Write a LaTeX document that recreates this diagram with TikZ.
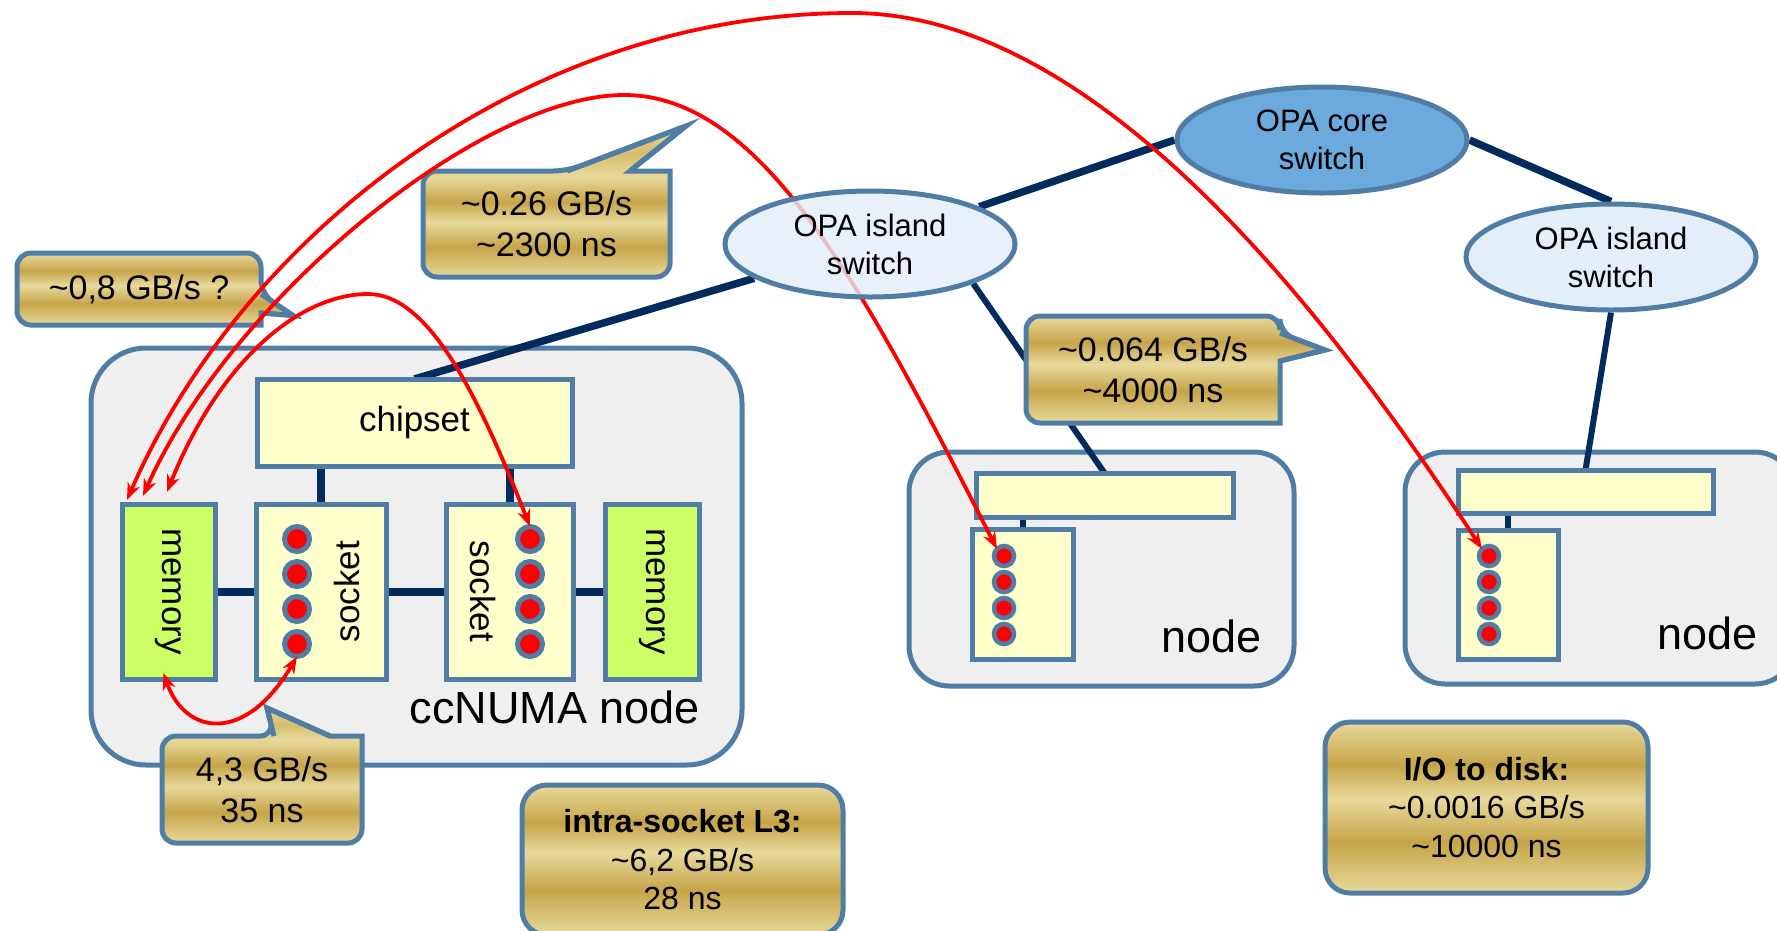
\documentclass[tikz,border=0pt]{standalone}
\usepackage{fontspec}
\setmainfont{Liberation Sans}
\usetikzlibrary{arrows.meta,calc,shapes.geometric}

\definecolor{frame}{HTML}{4F7DA6}
\definecolor{nodegray}{HTML}{EFEFEF}
\definecolor{chipyel}{HTML}{FFFFCC}
\definecolor{memgreen}{HTML}{CCFF66}
\definecolor{navy}{HTML}{002B5C}
\definecolor{corebl}{HTML}{6CAADD}
\definecolor{islbl}{HTML}{E3EEF8}
\definecolor{goldL}{HTML}{E8D99B}
\definecolor{goldD}{HTML}{C6A54A}
\definecolor{goldM}{HTML}{D5BC6E}

% metallic gold banding for the value boxes
\pgfdeclareverticalshading{goldbar}{100bp}{color(0bp)=(goldL); color(25bp)=(goldL); color(40bp)=(goldD); color(52.5bp)=(goldL); color(62.5bp)=(goldD); color(75bp)=(goldL); color(100bp)=(goldL)}
% the same banding for boxes whose pointer sticks out above them
\pgfdeclareverticalshading{goldbarA}{100bp}{color(0bp)=(goldL); color(25bp)=(goldL); color(34.9bp)=(goldD); color(43.2bp)=(goldL); color(49.8bp)=(goldD); color(58.1bp)=(goldL); color(66bp)=(goldM); color(75bp)=(goldL); color(100bp)=(goldL)}
\pgfdeclareverticalshading{goldbarB}{100bp}{color(0bp)=(goldL); color(25bp)=(goldL); color(36.5bp)=(goldD); color(46bp)=(goldL); color(53.7bp)=(goldD); color(63.2bp)=(goldL); color(69bp)=(goldM); color(75bp)=(goldL); color(100bp)=(goldL)}

\newcommand{\setfs}[2]{\fontsize{#1pt}{#2pt}\selectfont}
\newcommand{\tildech}{\textasciitilde}

\pgfdeclarelayer{bgl}
\pgfdeclarelayer{mid}
\pgfdeclarelayer{callbg}
\pgfdeclarelayer{over}
\pgfdeclarelayer{front}
\pgfsetlayers{bgl,mid,callbg,main,over,front}

\tikzset{
  hwbox/.style={draw=frame, line width=5pt, inner sep=0pt, outer sep=0pt},
  nodebg/.style={hwbox, fill=nodegray},
  chipbox/.style={hwbox, fill=chipyel},
  membox/.style={hwbox, fill=memgreen},
  cpu/.style={circle, fill=red, draw=frame, line width=5pt, minimum size=25pt, inner sep=0pt, outer sep=0pt},
  cpusmall/.style={cpu, line width=4.5pt, minimum size=20pt},
  switchnode/.style={ellipse, draw=frame, line width=5pt, minimum width=290pt, minimum height=106pt, inner sep=0pt},
  switchtxt/.style={align=center, font=\setfs{31}{38}},
  bar/.style={draw=navy, line width=8pt},
  netlink/.style={draw=navy, line width=7.5pt},
  thinlink/.style={draw=navy, line width=6pt},
  calltext/.style={align=center, inner sep=0pt, outer sep=0pt, font=\setfs{34}{41}},
  callshape/.style={draw=frame, line width=5pt, shade},
  pointerline/.style={draw=frame, line width=5pt},
  infobox/.style={draw=frame, line width=5pt, rounded corners=25pt, shade, shading=goldbar,
                  align=center, inner sep=0pt, font=\setfs{32}{38.5}},
  lbl/.style={inner sep=0pt, font=\setfs{35}{42}},
  biglbl/.style={inner sep=0pt, anchor=base east, font=\setfs{45}{54}},
  redlink/.style={draw=red, line width=3.8pt,
                  arrows={Stealth[length=17pt,width=13pt]-Stealth[length=17pt,width=13pt]}}
}

\begin{document}
\begin{tikzpicture}[x=1pt,y=-1pt]
\useasboundingbox (0,0) rectangle (1777,930);

% ---------- node enclosures ----------
\begin{pgfonlayer}{bgl}
  \fill[white] (0,0) rectangle (1777,930);
  \node[nodebg, rounded corners=55pt, minimum width=651pt, minimum height=417pt] (ccnuma) at (416.5,556.5) {};
  \node[nodebg, rounded corners=40pt, minimum width=385pt, minimum height=234pt] (node1) at (1101.5,569) {};
  \node[nodebg, rounded corners=40pt, minimum width=390pt, minimum height=232pt] (node2) at (1600,568) {};
\end{pgfonlayer}

% ---------- ccNUMA node ----------
\node[chipbox, minimum width=315pt, minimum height=87pt, font=\setfs{35}{42}] (chipset) at (414.5,422.5) {chipset};
\node[membox, minimum width=93pt, minimum height=175pt] (memL) at (168.5,591.5) {};
\node[chipbox, minimum width=130pt, minimum height=175pt] (sock1) at (321,591.5) {};
\node[chipbox, minimum width=127pt, minimum height=175pt] (sock2) at (509.5,591.5) {};
\node[membox, minimum width=94pt, minimum height=175pt] (memR) at (652,591.5) {};

\node[lbl, rotate=-90] (memLtxt) at (memL) {memory};
\node[lbl, rotate=-90] (memRtxt) at (memR) {memory};
\node[lbl, rotate=90] (s1txt) at (347,591.5) {socket};
\node[lbl, rotate=-90] (s2txt) at (483,591.5) {socket};

\foreach \i/\y in {1/539,2/574,3/609,4/644} {
  \node[cpu] (s1d\i) at (297,\y) {};
  \node[cpu] (s2d\i) at (530,\y) {};
}

\node[biglbl] (cclbl) at (700,723) {ccNUMA node};

% ---------- remote nodes ----------
\node[chipbox, minimum width=257pt, minimum height=44pt] (n1chip) at (1104.5,495) {};
\node[chipbox, minimum width=101pt, minimum height=130pt] (n1sock) at (1022.5,594) {};
\node[chipbox, minimum width=255pt, minimum height=43pt] (n2chip) at (1585.5,491.5) {};
\node[chipbox, minimum width=100pt, minimum height=129pt] (n2sock) at (1508,594.5) {};

\foreach \i/\y in {1/556,2/582,3/608,4/634} {
  \node[cpusmall] (n1d\i) at (1004,\y) {};
  \node[cpusmall] (n2d\i) at (1489,\y) {};
}

\node[biglbl] (n1lbl) at (1262,652) {node};
\node[biglbl] (n2lbl) at (1758,649) {node};

% ---------- switches ----------
\begin{pgfonlayer}{front}
  \node[switchnode, fill=islbl, fill opacity=0.8] (isl1) at (870,244) {};
  \node[switchtxt] (isl1txt) at (isl1) {OPA island\\switch};
  \node[switchnode, fill=corebl] (core) at (1322,140) {};
  \node[switchtxt] (coretxt) at (core) {OPA core\\switch};
  \node[switchnode, fill=islbl] (isl2) at (1611,257) {};
  \node[switchtxt] (isl2txt) at (isl2) {OPA island\\switch};
\end{pgfonlayer}

% ---------- wiring ----------
\begin{pgfonlayer}{mid}
  \draw[bar] (memL.east) -- (sock1.west);
  \draw[bar] (sock1.east) -- (sock2.west);
  \draw[bar] (sock2.east) -- (memR.west);
  \draw[bar] (sock1.north) -- (sock1.north |- chipset.south);
  \draw[bar] (sock2.north) -- (sock2.north |- chipset.south);
  \draw[thinlink] (n1sock.north) -- (n1sock.north |- n1chip.south);
  \draw[thinlink] (n2sock.north) -- (n2sock.north |- n2chip.south);
  \draw[netlink] (chipset.north) -- (isl1);
  \draw[netlink] (isl1) -- (core.west);
  \draw[netlink] (core.east) -- (isl2.north);
  \draw[thinlink] (isl1.-21) -- (n1chip.north);
  \draw[thinlink] (isl2.south) -- (n2chip.north);
\end{pgfonlayer}

% ---------- value callouts (text on top, outline with pointer below) ----------
\node[calltext, minimum width=244pt, minimum height=72pt] (c08) at (139,289) {\tildech0,8 GB/s ?};
\node[calltext, minimum width=247pt, minimum height=106pt] (c026) at (546.5,224) {\tildech0.26 GB/s\\\tildech2300 ns};
\node[calltext, minimum width=254pt, minimum height=107pt] (c064) at (1153,369.5) {\tildech0.064 GB/s\\\tildech4000 ns};
\node[calltext, minimum width=200pt, minimum height=107pt] (c43) at (262,789.5) {4,3 GB/s\\35 ns};

% pointer tips (the mitred outline reaches a little beyond them)
\coordinate (c08tip) at (293,315.5);
\coordinate (c026tip) at (686,126);
\coordinate (c064tip) at (1325,350);
\coordinate (c43tip) at (267,708);

\coordinate (c08a) at ($(c08.north east)+(0,41)$);
\coordinate (c08b) at ($(c08.north east)+(0,60)$);
\coordinate (c064a) at ($(c064.north east)+(0,17)$);
\coordinate (c064b) at ($(c064.north east)+(0,45)$);
\coordinate (c026a) at ($(c026.north west)+(144,0)$);
\coordinate (c026b) at ($(c026.north west)+(207,0)$);
\coordinate (c43a) at ($(c43.north west)+(112,0)$);
\coordinate (c43b) at ($(c43.north west)+(168,0)$);

\begin{pgfonlayer}{callbg}
  % pointer on the right side
  \path[callshape, shading=goldbar] (c08.north) [rounded corners=14pt] -- (c08.north east)
      -- (c08a) [sharp corners] -- (c08tip) -- (c08b)
      -- (c08.south east) [rounded corners=14pt] -- (c08.south west) -- (c08.north west) -- cycle;
  \path[callshape, shading=goldbar] (c064.north) [rounded corners=14pt] -- (c064.north east)
      -- (c064a) [sharp corners] -- (c064tip) -- (c064b)
      -- (c064.south east) [rounded corners=14pt] -- (c064.south west) -- (c064.north west) -- cycle;
  % pointer on the top side
  \path[callshape, shading=goldbarA] (c026.west) [rounded corners=14pt] -- (c026.north west)
      -- (c026a) [sharp corners] -- (c026tip) -- (c026b)
      -- (c026.north east) [rounded corners=14pt] -- (c026.south east) -- (c026.south west) -- cycle;
  \path[callshape, shading=goldbarB] (c43.west) [rounded corners=14pt] -- (c43.north west)
      -- (c43a) [sharp corners] -- (c43tip) -- (c43b)
      -- (c43.north east) [rounded corners=14pt] -- (c43.south east) -- (c43.south west) -- cycle;
  % pointer edges
  \draw[pointerline] (c08a) -- (c08tip) -- (c08b);
  \draw[pointerline] (c064a) -- (c064tip) -- (c064b);
  \draw[pointerline] (c026a) -- (c026tip) -- (c026b);
  \draw[pointerline] (c43a) -- (c43tip) -- (c43b);
\end{pgfonlayer}

% plain info boxes
\node[infobox, minimum width=321pt, minimum height=150pt] (intra) at (682.5,860)
  {{\bfseries intra-socket L3:}\\\tildech6,2 GB/s\\28 ns};
\node[infobox, minimum width=323pt, minimum height=171pt] (iodisk) at (1486.5,807.5)
  {{\bfseries I/O to disk:}\\\tildech0.0016 GB/s\\\tildech10000 ns};

% ---------- transfer paths ----------
\begin{pgfonlayer}{over}
  \draw[redlink] ($(memL.north west)+(5,-4)$) .. controls (240,240) and (520,13) .. (852,13)
      .. controls (1080,13) and (1300,270) .. (n2d1.135);
  \draw[redlink] ($(memL.north west)+(21,-8)$) .. controls (230,300) and (480,95) .. (624,95)
      .. controls (760,95) and (860,280) .. (n1d1.135);
  \draw[redlink] ($(memL.north west)+(45,-12)$) .. controls (220,360) and (300,294) .. (368,294)
      .. controls (430,294) and (480,400) .. (s2d1.north);
  \draw[redlink] ($(memL.south)+(-5,-6)$) .. controls (185,735) and (245,745) .. (s1d4.south);
\end{pgfonlayer}

\end{tikzpicture}
\end{document}
